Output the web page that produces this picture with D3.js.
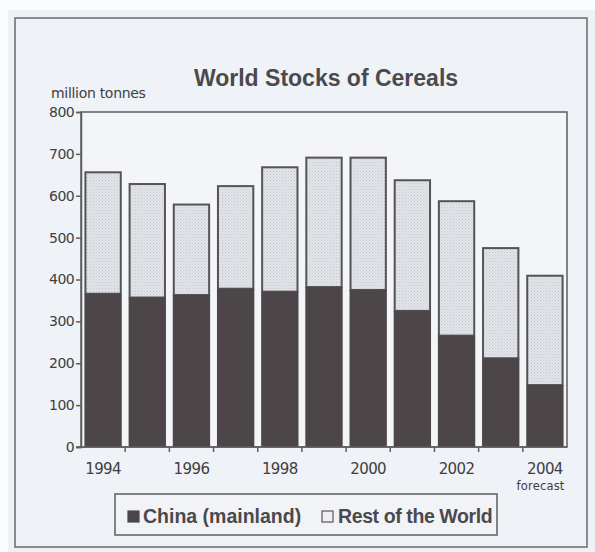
<!DOCTYPE html>
<html>
<head>
<meta charset="utf-8">
<script src="https://cdn.jsdelivr.net/npm/d3@7/dist/d3.min.js"></script>
<style>
  html, body { margin: 0; padding: 0; background: #ffffff; }
  svg { display: block; }
  .num { font-family: "DejaVu Sans", "Noto Sans", sans-serif; fill: #403e41; }
  .bold { font-family: "Liberation Sans", Arial, sans-serif; font-weight: bold; fill: #4a4a4c; }
</style>
</head>
<body>
<script>
// Cereal stocks, million tonnes
const years = ["1994","1995","1996","1997","1998","1999","2000","2001","2002","2003","2004"];
const china = [366, 357, 363, 378, 371, 382, 375, 325, 266, 212, 148];
const restOfWorld = [290, 271, 216, 245, 297, 309, 316, 312, 321, 263, 261];
const yTicks = [0, 100, 200, 300, 400, 500, 600, 700, 800];
const labelledYears = ["1994","1996","1998","2000","2002","2004"];
const seriesNames = ["China (mainland)", "Rest of the World"];

const W = 595, H = 552;
const plot = { left: 81, right: 567, top: 112, bottom: 447 };

const svg = d3.select("body").append("svg").attr("width", W).attr("height", H);

// paper background and outer frame
svg.append("rect").attr("x", 0).attr("y", 0).attr("width", W).attr("height", H).attr("fill", "#fbfcfd");
svg.append("rect").attr("x", 8).attr("y", 10).attr("width", W - 8).attr("height", H - 10).attr("fill", "#eef1f6");
svg.append("rect").attr("x", 15).attr("y", 18).attr("width", 572).attr("height", 529)
  .attr("fill", "#eff2f6").attr("stroke", "#6a6a6c").attr("stroke-width", 1.5);

// stipple used for the lighter segment
const defs = svg.append("defs");
const pat = defs.append("pattern").attr("id", "stipple").attr("patternUnits", "userSpaceOnUse")
  .attr("width", 3).attr("height", 3);
pat.append("rect").attr("width", 3).attr("height", 3).attr("fill", "#e2e4e9");
pat.append("rect").attr("x", 0).attr("y", 0).attr("width", 1).attr("height", 1).attr("fill", "#c4c6cc");
pat.append("rect").attr("x", 1.5).attr("y", 1.5).attr("width", 1).attr("height", 1).attr("fill", "#cdd0d5");

const x = d3.scaleBand().domain(years).range([plot.left, plot.right]).paddingInner(0.2).paddingOuter(0.1);
const y = d3.scaleLinear().domain([0, 800]).range([plot.bottom, plot.top]);

// plot area
svg.append("rect").attr("x", plot.left).attr("y", plot.top)
  .attr("width", plot.right - plot.left).attr("height", plot.bottom - plot.top)
  .attr("fill", "#f3f5f8").attr("stroke", "#5e5e60").attr("stroke-width", 1.5);

// stacked bars
const rows = years.map((yr, i) => ({ year: yr, china: china[i], rest: restOfWorld[i] }));
const stack = d3.stack().keys(["china", "rest"]);
const layers = stack(rows);

const g = svg.append("g");
// light segment (rest of world), outlined
g.selectAll("rect.rest").data(layers[1]).join("rect")
  .attr("class", "rest")
  .attr("x", d => x(d.data.year))
  .attr("y", d => y(d[1]))
  .attr("width", x.bandwidth())
  .attr("height", d => y(d[0]) - y(d[1]))
  .attr("fill", "url(#stipple)")
  .attr("stroke", "#545355").attr("stroke-width", 2);
// dark segment (China)
g.selectAll("rect.china").data(layers[0]).join("rect")
  .attr("class", "china")
  .attr("x", d => x(d.data.year) - 1)
  .attr("y", d => y(d[1]))
  .attr("width", x.bandwidth() + 2)
  .attr("height", d => y(d[0]) - y(d[1]))
  .attr("fill", "#4c4649");

// y axis
const yAxis = d3.axisLeft(y).tickValues(yTicks).tickSize(5).tickPadding(2);
const ya = svg.append("g").attr("transform", `translate(${plot.left},0)`).call(yAxis);
ya.select(".domain").attr("stroke", "#5e5e60").attr("stroke-width", 1.5);
ya.selectAll(".tick line").attr("stroke", "#5e5e60").attr("stroke-width", 1.5);
ya.selectAll(".tick text").attr("class", "num").attr("font-size", 14).attr("letter-spacing", -0.6);

// x axis: labels on even years, tick marks between bars
const xAxis = d3.axisBottom(x).tickValues(labelledYears).tickSize(0).tickPadding(16);
const xa = svg.append("g").attr("transform", `translate(0,${plot.bottom})`).call(xAxis);
xa.select(".domain").remove();
xa.selectAll(".tick text").attr("class", "num").attr("font-size", 15).attr("letter-spacing", -0.6);

const gap = x.step() - x.bandwidth();
const bounds = years.slice(0, -1).map(yr => x(yr) + x.bandwidth() + gap / 2);
svg.append("line").attr("x1", plot.left - 5).attr("x2", plot.right)
  .attr("y1", plot.bottom).attr("y2", plot.bottom).attr("stroke", "#5e5e60").attr("stroke-width", 1.5);
svg.selectAll("line.xt").data(bounds).join("line").attr("class", "xt")
  .attr("x1", d => d).attr("x2", d => d)
  .attr("y1", plot.bottom).attr("y2", plot.bottom + 5)
  .attr("stroke", "#5e5e60").attr("stroke-width", 1.5);

// "forecast" under the last year
const last = years[years.length - 1];
svg.append("text").attr("class", "num")
  .attr("x", x(last) + x.bandwidth() + 2).attr("y", 490)
  .attr("text-anchor", "end").attr("font-size", 11.5).attr("letter-spacing", 0.2)
  .text("forecast");

// title and unit
svg.append("text").attr("class", "bold").attr("x", 326).attr("y", 86)
  .attr("text-anchor", "middle").attr("font-size", 23).text("World Stocks of Cereals");
svg.append("text").attr("class", "num").attr("x", 51).attr("y", 98)
  .attr("font-size", 14).attr("letter-spacing", -0.3).text("million tonnes");

// legend
const leg = svg.append("g");
leg.append("rect").attr("x", 115).attr("y", 494).attr("width", 382).attr("height", 41)
  .attr("fill", "#f1f3f7").attr("stroke", "#5e5e60").attr("stroke-width", 1.5);
const legItems = [
  { name: seriesNames[0], sx: 128, tx: 143, ls: 0, fill: "#4c4649", stroke: "#4c4649" },
  { name: seriesNames[1], sx: 322, tx: 338, ls: -0.4, fill: "#eef0f3", stroke: "#59585a" }
];
legItems.forEach(it => {
  leg.append("rect").attr("x", it.sx).attr("y", 511).attr("width", 11).attr("height", 11)
    .attr("fill", it.fill).attr("stroke", it.stroke).attr("stroke-width", 1.2);
  leg.append("text").attr("class", "bold").attr("x", it.tx).attr("y", 522.5)
    .attr("font-size", 19.5).attr("letter-spacing", it.ls).text(it.name);
});
</script>
</body>
</html>
